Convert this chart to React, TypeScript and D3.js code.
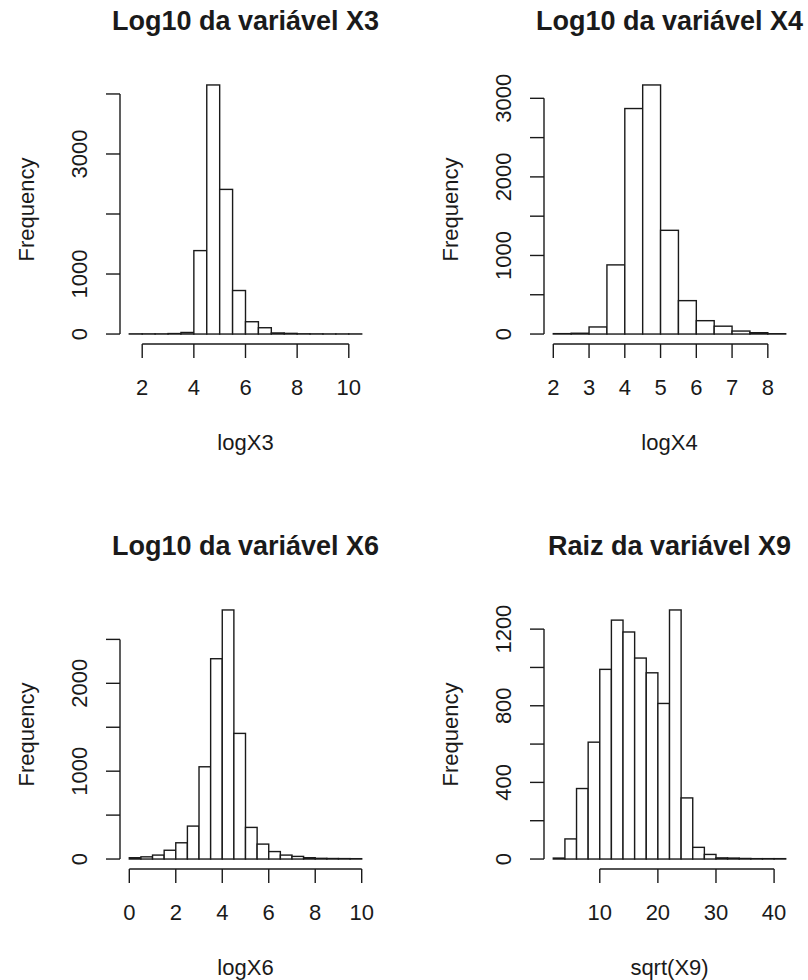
import * as d3 from 'd3'
import { useEffect, useRef } from 'react'

// bin edges and counts
const x3Edges = [1.5, 2, 2.5, 3, 3.5, 4, 4.5, 5, 5.5, 6, 6.5, 7, 7.5, 8, 8.5, 9, 9.5, 10, 10.5]
const x3Counts = [3, 3, 3, 8, 26, 1390, 4150, 2410, 725, 205, 105, 18, 11, 4, 3, 2, 2, 2]
const x3Ticks = [2, 4, 6, 8, 10]
const x3YTicks = [0, 1000, 2000, 3000, 4000]
const x3YLabels = [0, 1000, 3000]

const x4Edges = [2, 2.5, 3, 3.5, 4, 4.5, 5, 5.5, 6, 6.5, 7, 7.5, 8, 8.5]
const x4Counts = [5, 10, 90, 880, 2870, 3170, 1320, 425, 170, 100, 38, 17, 4]
const x4Ticks = [2, 3, 4, 5, 6, 7, 8]
const x4YTicks = [0, 500, 1000, 1500, 2000, 2500, 3000]
const x4YLabels = [0, 1000, 2000, 3000]

const x6Edges = [0, 0.5, 1, 1.5, 2, 2.5, 3, 3.5, 4, 4.5, 5, 5.5, 6, 6.5, 7, 7.5, 8, 8.5, 9, 9.5, 10]
const x6Counts = [15, 25, 45, 100, 185, 375, 1050, 2280, 2835, 1430, 360, 170, 85, 45, 30, 15, 8, 6, 5, 4]
const x6Ticks = [0, 2, 4, 6, 8, 10]
const x6YTicks = [0, 500, 1000, 1500, 2000, 2500]
const x6YLabels = [0, 1000, 2000]

const x9Edges = [2, 4, 6, 8, 10, 12, 14, 16, 18, 20, 22, 24, 26, 28, 30, 32, 34, 36, 38, 40, 42]
const x9Counts = [5, 105, 368, 610, 990, 1247, 1185, 1049, 972, 812, 1300, 319, 61, 24, 6, 5, 3, 2, 2, 2]
const x9Ticks = [10, 20, 30, 40]
const x9YTicks = [0, 200, 400, 600, 800, 1000, 1200]
const x9YLabels = [0, 400, 800, 1200]

const titles = ['Log10 da variável X3', 'Log10 da variável X4', 'Log10 da variável X6', 'Raiz da variável X9']
const xLabels = ['logX3', 'logX4', 'logX6', 'sqrt(X9)']

const FONT = '"Liberation Sans", Arial, Helvetica, sans-serif'
const INK = '#1a1a1a'

export default function App() {
  const ref = useRef<SVGSVGElement>(null)

  useEffect(() => {
    document.body.style.margin = '0'
    const svg = d3.select(ref.current)
    svg.selectAll('*').remove()

    const panels = [
      { edges: x3Edges, counts: x3Counts, ticks: x3Ticks, yTicks: x3YTicks, yLabels: x3YLabels, left: 120, right: 371, top: 75, bottom: 344 },
      { edges: x4Edges, counts: x4Counts, ticks: x4Ticks, yTicks: x4YTicks, yLabels: x4YLabels, left: 544, right: 795, top: 75, bottom: 344 },
      { edges: x6Edges, counts: x6Counts, ticks: x6Ticks, yTicks: x6YTicks, yLabels: x6YLabels, left: 120, right: 371, top: 600, bottom: 869 },
      { edges: x9Edges, counts: x9Counts, ticks: x9Ticks, yTicks: x9YTicks, yLabels: x9YLabels, left: 544, right: 795, top: 600, bottom: 869 },
    ]

    panels.forEach((p, i) => {
      const g = svg.append('g')
      const lo = p.edges[0]
      const hi = p.edges[p.edges.length - 1]
      const pad = (hi - lo) * 0.04
      const ymax = d3.max(p.counts) || 0

      // R-style 4% axis extension
      const x = d3.scaleLinear().domain([lo - pad, hi + pad]).range([p.left, p.right])
      const y = d3.scaleLinear().domain([-ymax * 0.04, ymax * 1.04]).range([p.bottom, p.top])

      const bins = p.counts.map((c, j) => ({ x0: p.edges[j], x1: p.edges[j + 1], c }))

      g.selectAll('rect')
        .data(bins)
        .enter().append('rect')
        .attr('x', d => x(d.x0))
        .attr('width', d => x(d.x1) - x(d.x0))
        .attr('y', d => y(d.c))
        .attr('height', d => y(0) - y(d.c))
        .attr('fill', '#fff')
        .attr('stroke', INK)
        .attr('stroke-width', 1.4)

      // x axis
      const xa = g.append('g').attr('stroke', INK).attr('stroke-width', 1.4)
      xa.append('line')
        .attr('x1', x(p.ticks[0])).attr('x2', x(p.ticks[p.ticks.length - 1]))
        .attr('y1', p.bottom).attr('y2', p.bottom)
      xa.selectAll('line.t')
        .data(p.ticks)
        .enter().append('line')
        .attr('class', 't')
        .attr('x1', d => x(d)).attr('x2', d => x(d))
        .attr('y1', p.bottom).attr('y2', p.bottom + 14)
      g.selectAll('text.xt')
        .data(p.ticks)
        .enter().append('text')
        .attr('class', 'xt')
        .attr('x', d => x(d))
        .attr('y', p.bottom + 51)
        .attr('text-anchor', 'middle')
        .attr('font-family', FONT)
        .attr('font-size', 22)
        .attr('fill', INK)
        .text(d => String(d))

      // y axis
      const ya = g.append('g').attr('stroke', INK).attr('stroke-width', 1.4)
      ya.append('line')
        .attr('x1', p.left).attr('x2', p.left)
        .attr('y1', y(p.yTicks[0])).attr('y2', y(p.yTicks[p.yTicks.length - 1]))
      ya.selectAll('line.t')
        .data(p.yTicks)
        .enter().append('line')
        .attr('class', 't')
        .attr('x1', p.left - 14).attr('x2', p.left)
        .attr('y1', d => y(d)).attr('y2', d => y(d))
      g.selectAll('text.yt')
        .data(p.yLabels)
        .enter().append('text')
        .attr('class', 'yt')
        .attr('transform', d => `translate(${p.left - 33},${y(d)}) rotate(-90)`)
        .attr('text-anchor', 'middle')
        .attr('font-family', FONT)
        .attr('font-size', 22)
        .attr('fill', INK)
        .text(d => String(d))

      // labels and title
      g.append('text')
        .attr('transform', `translate(${p.left - 86},${(p.top + p.bottom) / 2}) rotate(-90)`)
        .attr('text-anchor', 'middle')
        .attr('font-family', FONT)
        .attr('font-size', 22)
        .attr('fill', INK)
        .text('Frequency')

      g.append('text')
        .attr('x', (p.left + p.right) / 2)
        .attr('y', p.bottom + 106)
        .attr('text-anchor', 'middle')
        .attr('font-family', FONT)
        .attr('font-size', 22)
        .attr('fill', INK)
        .text(xLabels[i])

      g.append('text')
        .attr('x', (p.left + p.right) / 2)
        .attr('y', p.top - 45)
        .attr('text-anchor', 'middle')
        .attr('font-family', FONT)
        .attr('font-size', 27)
        .attr('font-weight', 'bold')
        .attr('fill', INK)
        .text(titles[i])
    })
  }, [])

  return <svg ref={ref} width={808} height={980} style={{ display: 'block', background: '#fff' }} />
}
